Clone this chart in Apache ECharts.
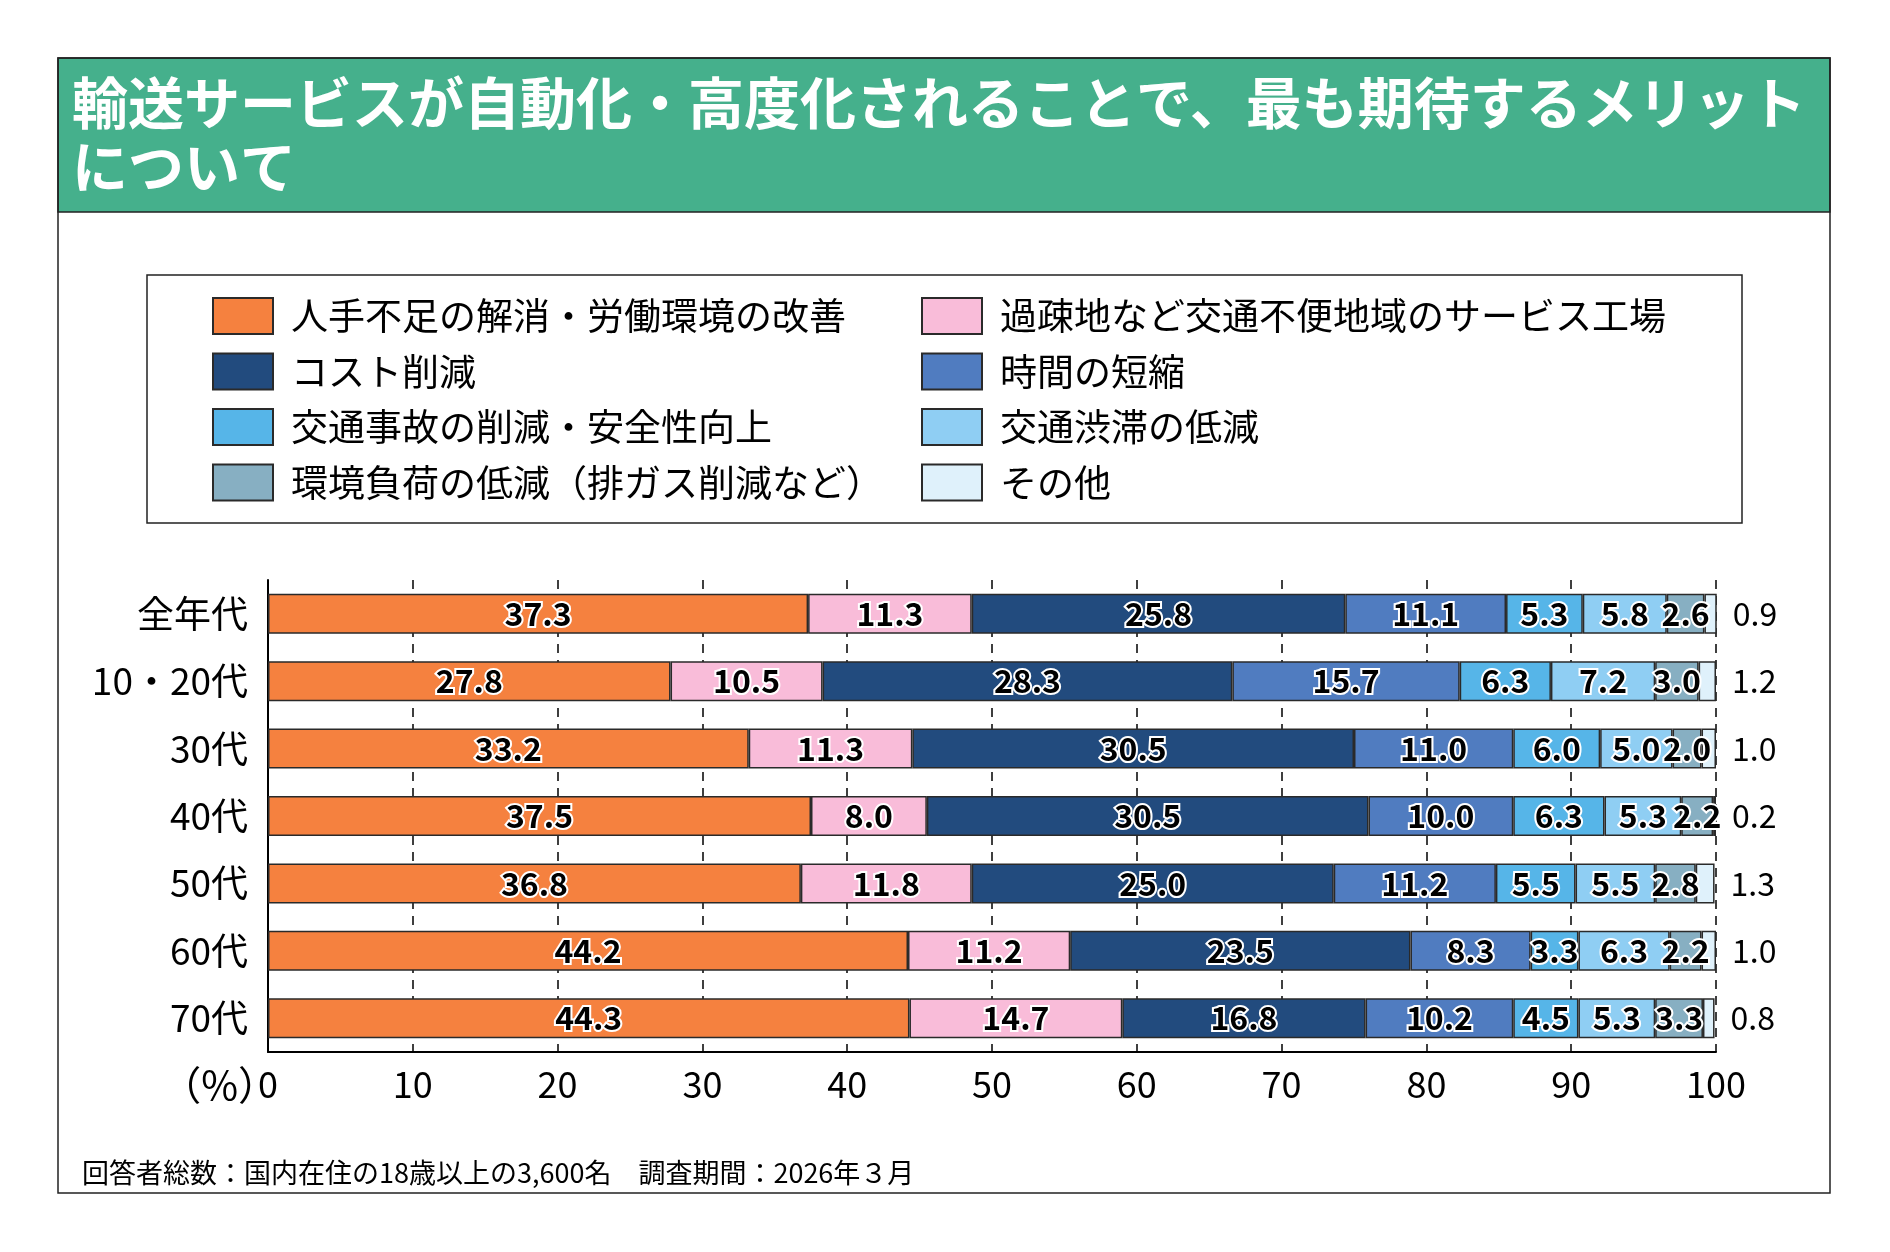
<!DOCTYPE html>
<html>
<head>
<meta charset="utf-8">
<script src="https://cdn.jsdelivr.net/npm/echarts@6/dist/echarts.min.js"></script>
<style>
html,body{margin:0;padding:0;background:#fff;}
#chart{width:1890px;height:1252px;}
</style>
</head>
<body>
<div id="chart"></div>
<script>
var categories = ['全年代', '10・20代', '30代', '40代', '50代', '60代', '70代'];
var seriesNames = [
  '人手不足の解消・労働環境の改善',
  '過疎地など交通不便地域のサービス工場',
  'コスト削減',
  '時間の短縮',
  '交通事故の削減・安全性向上',
  '交通渋滞の低減',
  '環境負荷の低減（排ガス削減など）',
  'その他'
];
var laborShortage = [37.3, 27.8, 33.2, 37.5, 36.8, 44.2, 44.3];
var ruralService  = [11.3, 10.5, 11.3, 8.0, 11.8, 11.2, 14.7];
var costCut       = [25.8, 28.3, 30.5, 30.5, 25.0, 23.5, 16.8];
var timeSaving    = [11.1, 15.7, 11.0, 10.0, 11.2, 8.3, 10.2];
var accidents     = [5.3, 6.3, 6.0, 6.3, 5.5, 3.3, 4.5];
var congestion    = [5.8, 7.2, 5.0, 5.3, 5.5, 6.3, 5.3];
var environment   = [2.6, 3.0, 2.0, 2.2, 2.8, 2.2, 3.3];
var other         = [0.9, 1.2, 1.0, 0.2, 1.3, 1.0, 0.8];
var xTicks = [0, 10, 20, 30, 40, 50, 60, 70, 80, 90, 100];

var seriesData = [laborShortage, ruralService, costCut, timeSaving, accidents, congestion, environment, other];
var colors = ['#F5813F', '#F9BCD9', '#224B7E', '#507CC0', '#56B5E8', '#8FCEF3', '#87AFC2', '#DFF1FB'];

var CJK = '"Noto Sans CJK JP", "Noto Sans", sans-serif';
var NUM = '"Noto Sans CJK JP", "Noto Sans", sans-serif';

var series = seriesData.map(function (d, i) {
  var isLast = i === seriesData.length - 1;
  return {
    name: seriesNames[i],
    type: 'bar',
    stack: 'total',
    barWidth: 40,
    data: d,
    itemStyle: { color: colors[i], borderColor: '#2a2a2a', borderWidth: 1.5 },
    label: isLast ? {
      show: true,
      position: 'right',
      distance: 16,
      formatter: function (p) { return p.value.toFixed(1); },
      color: '#000',
      fontSize: 32,
      fontFamily: NUM
    } : {
      show: true,
      position: 'inside',
      formatter: function (p) { return p.value.toFixed(1); },
      color: '#000',
      fontSize: 32,
      fontWeight: 'bold',
      fontFamily: NUM,
      textBorderColor: '#fff',
      textBorderWidth: 4
    },
    emphasis: { disabled: true }
  };
});

var legendCommon = {
  orient: 'vertical',
  icon: 'rect',
  padding: 0,
  itemWidth: 60,
  itemHeight: 36,
  itemGap: 17.5,
  selectedMode: false,
  textStyle: { fontSize: 37, lineHeight: 36, color: '#000', fontFamily: CJK, padding: [0, 0, 0, 13] }
};

var chart = echarts.init(document.getElementById('chart'), null, { renderer: 'canvas' });
chart.setOption({
  backgroundColor: '#fff',
  animation: false,
  legend: [
    Object.assign({}, legendCommon, {
      left: 212, top: 297,
      data: [seriesNames[0], seriesNames[2], seriesNames[4], seriesNames[6]]
    }),
    Object.assign({}, legendCommon, {
      left: 921, top: 297,
      data: [seriesNames[1], seriesNames[3], seriesNames[5], seriesNames[7]]
    })
  ],
  grid: { left: 268, right: 174, top: 580, height: 472 },
  xAxis: {
    type: 'value',
    min: 0, max: 100, interval: 10,
    axisLine: { show: true, lineStyle: { color: '#000', width: 2 } },
    axisTick: { show: false },
    splitLine: { show: true, lineStyle: { color: '#000', width: 1.5, type: [9, 7] } },
    axisLabel: {
      color: '#000', fontSize: 36, fontFamily: NUM, margin: 14,
      formatter: function (v) { return xTicks.indexOf(v) >= 0 ? String(v) : ''; }
    }
  },
  yAxis: {
    type: 'category',
    inverse: true,
    data: categories,
    axisLine: { show: true, lineStyle: { color: '#000', width: 2 } },
    axisTick: { show: false },
    axisLabel: { color: '#000', fontSize: 37, fontFamily: CJK, margin: 20 }
  },
  series: series,
  graphic: [
    { type: 'rect', shape: { x: 58, y: 58, width: 1772, height: 1135 },
      style: { fill: 'none', stroke: '#222', lineWidth: 1.5 }, z: 10 },
    { type: 'rect', shape: { x: 58, y: 58, width: 1772, height: 154 },
      style: { fill: '#45B08C', stroke: '#222', lineWidth: 1.5 }, z: 9 },
    { type: 'text', left: 72, top: 71, z: 11,
      style: { text: '輸送サービスが自動化・高度化されることで、最も期待するメリット\nについて',
        fill: '#fff', font: 'bold 56px ' + CJK, lineHeight: 64 } },
    { type: 'rect', shape: { x: 147, y: 275, width: 1595, height: 248 },
      style: { fill: 'none', stroke: '#222', lineWidth: 1.5 }, z: 10 },
    { type: 'text', x: 278, y: 1085, z: 11,
      style: { text: '（%）', fill: '#000', font: '40px ' + CJK, align: 'right', verticalAlign: 'middle' } },
    { type: 'text', x: 82, y: 1173, z: 11,
      style: { text: '回答者総数：国内在住の18歳以上の3,600名　調査期間：2026年３月',
        fill: '#000', font: '27px ' + CJK, align: 'left', verticalAlign: 'middle' } }
  ]
});
</script>
</body>
</html>
